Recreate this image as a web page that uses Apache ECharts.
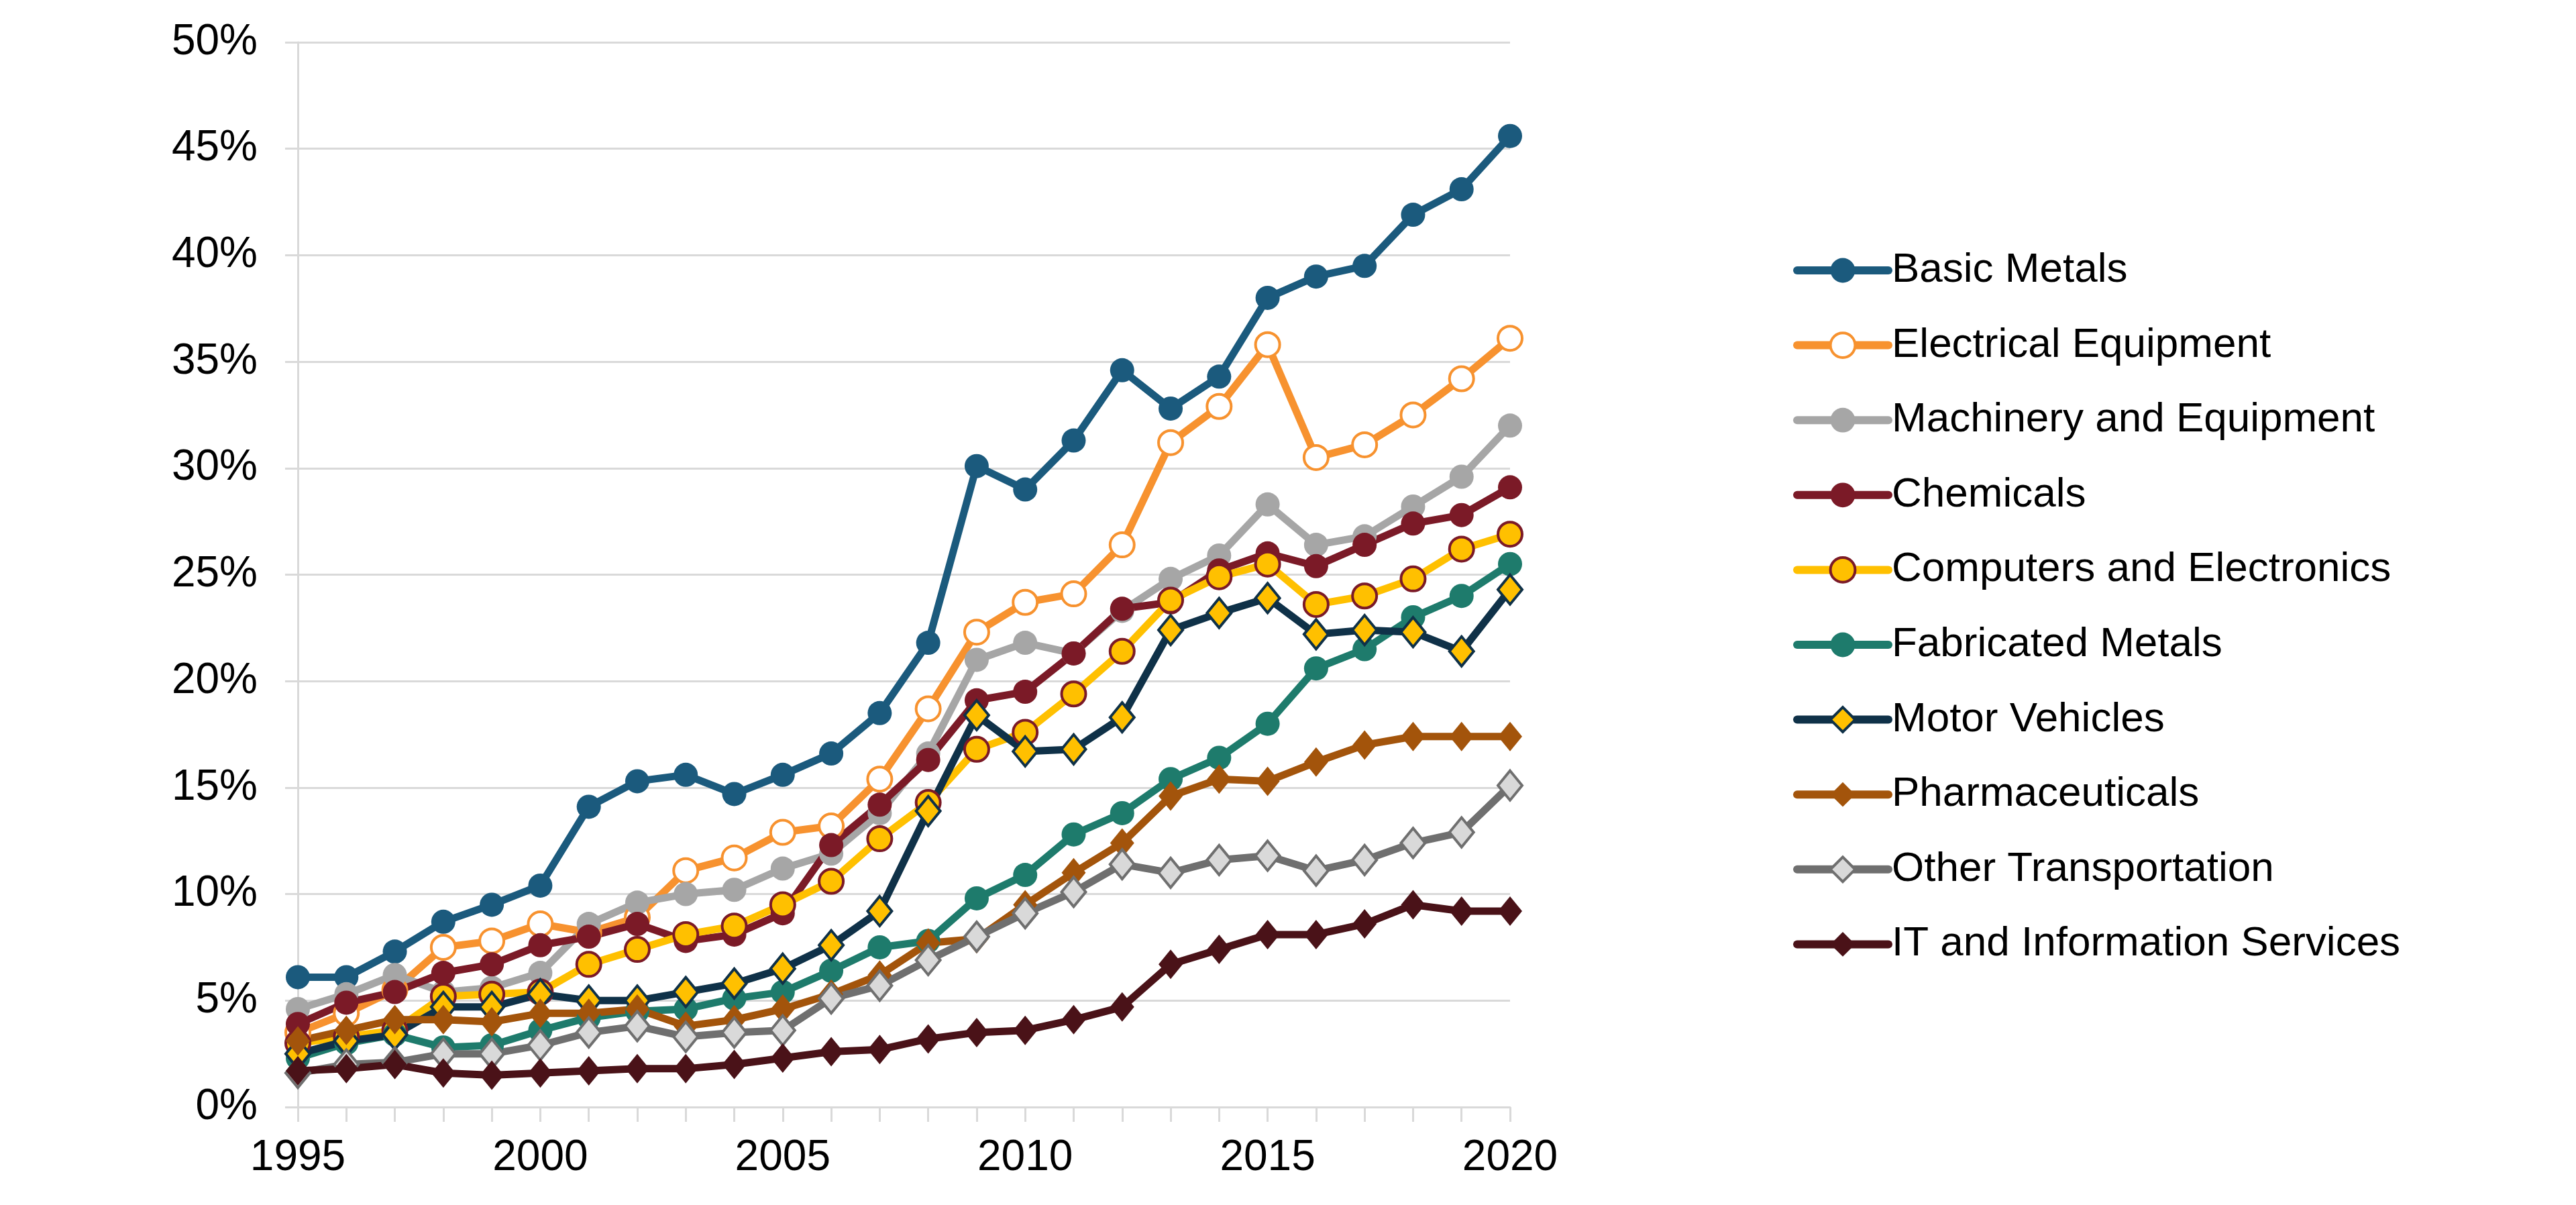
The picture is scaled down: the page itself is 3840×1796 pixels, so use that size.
<!DOCTYPE html>
<html>
<head>
<meta charset="utf-8">
<script src="https://cdn.jsdelivr.net/npm/echarts@6/dist/echarts.min.js"></script>
<style>html,body{margin:0;padding:0;background:#fff;}#c{width:3840px;height:1796px;}</style>
</head>
<body>
<div id="c"></div>
<script>
const years = ['1995','1996','1997','1998','1999','2000','2001','2002','2003','2004','2005','2006','2007','2008','2009','2010','2011','2012','2013','2014','2015','2016','2017','2018','2019','2020'];
const yTicks = [0,5,10,15,20,25,30,35,40,45,50];

const basicMetals = [6.1,6.1,7.3,8.7,9.5,10.4,14.1,15.3,15.6,14.7,15.6,16.6,18.5,21.8,30.1,29.0,31.3,34.6,32.8,34.3,38.0,39.0,39.5,41.9,43.1,45.6];
const electrical = [3.5,4.4,5.5,7.5,7.8,8.6,8.2,8.9,11.1,11.7,12.9,13.2,15.4,18.7,22.3,23.7,24.1,26.4,31.2,32.9,35.8,30.5,31.1,32.5,34.2,36.1];
const machinery = [4.6,5.3,6.2,5.4,5.6,6.3,8.6,9.6,10.0,10.2,11.2,11.9,13.8,16.6,21.0,21.8,21.3,23.3,24.8,25.9,28.3,26.4,26.8,28.2,29.6,32.0];
const chemicals = [3.9,4.9,5.4,6.3,6.7,7.6,8.0,8.6,7.8,8.1,9.1,12.3,14.2,16.3,19.1,19.5,21.3,23.4,23.7,25.2,26.0,25.4,26.4,27.4,27.8,29.1];
const computers = [3.0,3.3,3.6,5.2,5.3,5.4,6.7,7.4,8.1,8.5,9.5,10.6,12.6,14.3,16.8,17.6,19.4,21.4,23.8,24.9,25.5,23.6,24.0,24.8,26.2,26.9];
const fabricated = [2.3,3.0,3.4,2.8,2.9,3.6,4.2,4.5,4.6,5.1,5.4,6.4,7.5,7.8,9.8,10.9,12.8,13.8,15.4,16.4,18.0,20.6,21.5,23.0,24.0,25.5];
const motorVehicles = [2.5,3.1,3.4,4.7,4.7,5.3,5.0,5.0,5.4,5.8,6.5,7.6,9.2,13.9,18.4,16.7,16.8,18.3,22.4,23.2,23.9,22.2,22.4,22.3,21.4,24.3];
const pharma = [3.1,3.6,4.1,4.1,4.0,4.4,4.4,4.6,3.8,4.1,4.6,5.3,6.2,7.7,7.9,9.5,11.0,12.4,14.6,15.4,15.3,16.2,17.0,17.4,17.4,17.4];
const otherTransport = [1.6,2.0,2.1,2.5,2.5,2.9,3.5,3.8,3.3,3.5,3.6,5.1,5.7,6.9,8.0,9.1,10.1,11.4,11.0,11.6,11.8,11.1,11.6,12.4,12.9,15.1];
const itServices = [1.7,1.8,2.0,1.6,1.5,1.6,1.7,1.8,1.8,2.0,2.3,2.6,2.7,3.2,3.5,3.6,4.1,4.7,6.7,7.4,8.1,8.1,8.6,9.5,9.2,9.2];

const names = ['Basic Metals','Electrical Equipment','Machinery and Equipment','Chemicals','Computers and Electronics','Fabricated Metals','Motor Vehicles','Pharmaceuticals','Other Transportation','IT and Information Services'];
const datasets = [basicMetals, electrical, machinery, chemicals, computers, fabricated, motorVehicles, pharma, otherTransport, itServices];
const styles = [
  {line:'#1B5A7D', fill:'#1B5A7D', border:'#1B5A7D', sym:'circle'},
  {line:'#F7922F', fill:'#FFFFFF', border:'#F7922F', sym:'circle'},
  {line:'#A6A6A6', fill:'#A6A6A6', border:'#A6A6A6', sym:'circle'},
  {line:'#7B1A27', fill:'#7B1A27', border:'#7B1A27', sym:'circle'},
  {line:'#FFC000', fill:'#FFC000', border:'#7B1A27', sym:'circle'},
  {line:'#1E7B6C', fill:'#1E7B6C', border:'#1E7B6C', sym:'circle'},
  {line:'#0F3148', fill:'#FFC000', border:'#0F3148', sym:'diamond'},
  {line:'#A3540B', fill:'#A3540B', border:'#A3540B', sym:'diamond'},
  {line:'#6F6F6F', fill:'#D9D9D9', border:'#6F6F6F', sym:'diamond'},
  {line:'#4A1218', fill:'#4A1218', border:'#4A1218', sym:'diamond'}
];

const FONT = '"Liberation Sans", Arial, sans-serif';
const grid = '#D9D9D9';

const series = names.map((n,i)=>{
  const s = styles[i];
  const isDia = s.sym === 'diamond';
  return {
    name: n,
    type: 'line',
    data: datasets[i],
    symbol: s.sym,
    symbolSize: isDia ? [36,44] : 36,
    showSymbol: true,
    lineStyle: {color: s.line, width: 11},
    itemStyle: {color: s.fill, borderColor: s.border, borderWidth: (s.fill !== s.border) ? 4 : 0},
    emphasis: {disabled: true},
    animation: false
  };
});

const legendData = names.map((n,i)=>({
  name: n,
  lineStyle: {color: styles[i].line, width: 12, cap: 'round'},
  itemStyle: {color: styles[i].fill, borderColor: styles[i].border, borderWidth: (styles[i].fill !== styles[i].border) ? 4 : 0}
}));

const chart = echarts.init(document.getElementById('c'), null, {renderer:'canvas'});
chart.setOption({
  backgroundColor: '#fff',
  animation: false,
  grid: {left: 444, right: 1589, top: 63, bottom: 146},
  xAxis: {
    type: 'category',
    data: years,
    boundaryGap: false,
    axisLine: {show: true, lineStyle: {color: grid, width: 3}},
    axisTick: {show: true, interval: 0, length: 22, lineStyle: {color: grid, width: 3}},
    axisLabel: {interval: 4, margin: 44, fontSize: 64, color: '#000', fontFamily: FONT},
    splitLine: {show: false}
  },
  yAxis: {
    type: 'value',
    min: yTicks[0], max: yTicks[yTicks.length-1], interval: 5,
    axisLine: {show: true, lineStyle: {color: grid, width: 3}},
    axisTick: {show: true, length: 19, lineStyle: {color: grid, width: 3}},
    axisLabel: {margin: 60, fontSize: 64, color: '#000', fontFamily: FONT, formatter: '{value}%'},
    splitLine: {show: true, lineStyle: {color: grid, width: 3}}
  },
  legend: {
    orient: 'vertical',
    left: 2668, top: 367,
    itemWidth: 136, itemHeight: 46, itemGap: 49.6,
    textStyle: {fontSize: 62, color: '#000', fontFamily: FONT},
    data: legendData
  },
  series: series
});
</script>
</body>
</html>
